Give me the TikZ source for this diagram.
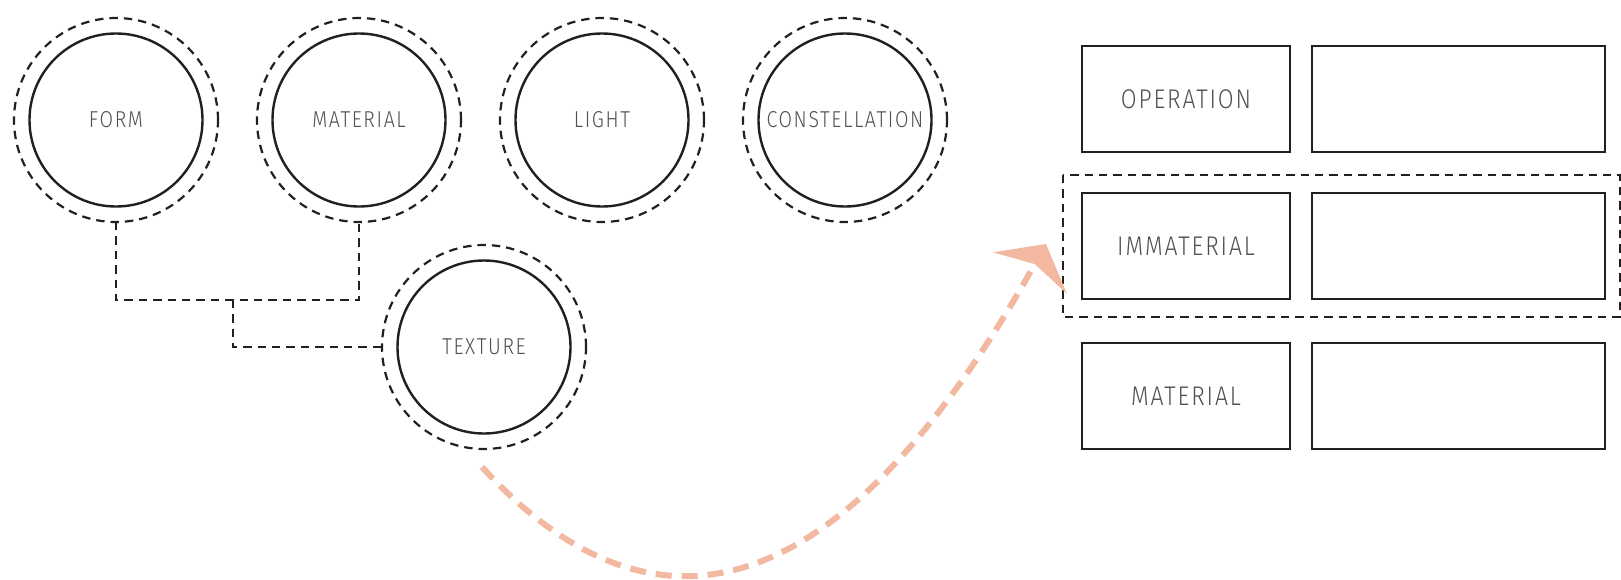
\documentclass[tikz,border=0pt]{standalone}
\usepackage{fontspec}
\setmainfont{Fira Sans}[UprightFont=* Light, FakeStretch=0.85, LetterSpace=7]
\usepackage{xcolor}
\usepackage{tikz}
\usetikzlibrary{arrows.meta, positioning, calc}
\definecolor{qInk}{RGB}{35,31,32}
\definecolor{qText}{RGB}{80,80,80}
\definecolor{qPeach}{RGB}{242,184,160}

\begin{document}
\begin{tikzpicture}[x=0.5pt, y=0.5pt,
  idea/.style={circle, draw=qInk, line width=1.2pt, minimum size=86.5pt, inner sep=0pt, outer sep=0pt,
    text=qText, font=\fontsize{11.5}{13}\selectfont},
  halo/.style={circle, draw=qInk, line width=1.1pt, dash pattern=on 4.2pt off 3pt,
    minimum size=102pt, inner sep=0pt, outer sep=0pt},
  cell/.style={rectangle, draw=qInk, line width=1.4pt, minimum width=104pt, minimum height=53pt,
    outer sep=0pt, text=qText, font=\fontsize{13.5}{15}\selectfont},
  slot/.style={cell, minimum width=146.5pt},
  link/.style={draw=qInk, line width=1.1pt, dash pattern=on 4.2pt off 3pt},
  flow/.style={draw=qPeach, line width=3pt, dash pattern=on 8pt off 5pt,
    -{Stealth[length=16.5pt, width=42pt, inset=5pt]}}]
  \useasboundingbox (0,0) rectangle (1621,-579);

  % Concept circles with dashed halos
  \foreach \nm/\lbl/\cx in {form/FORM/116, material/MATERIAL/359, light/LIGHT/602, constellation/CONSTELLATION/845} {
    \node[idea] (\nm) at (\cx,-120) {\lbl};
    \node[halo] (\nm-ring) at (\nm) {};
  }
  \node[idea] (texture) at (484,-347) {TEXTURE};
  \node[halo] (texture-ring) at (texture) {};

  % Form + material -> texture
  \draw[link] (form-ring.south) -- ++(0,-78) coordinate (fork) -| (material-ring.south);
  \coordinate (joint) at ($(fork)!0.48!(fork -| material-ring.south)$);
  \draw[link] (joint) |- (texture-ring.west);

  % Table of categories
  \node[cell] (operation) at (1186,-99) {OPERATION};
  \node[slot, right=11pt of operation] (operation-note) {};
  \node[cell, below=20.5pt of operation] (immaterial) {IMMATERIAL};
  \node[slot, right=11pt of immaterial] (immaterial-note) {};
  \node[cell, below=22pt of immaterial] (matter) {MATERIAL};
  \node[slot, right=11pt of matter] (matter-note) {};

  % Highlighted row
  \draw[link] ($(immaterial.north west)+(-19,18)$) rectangle ($(immaterial-note.south east)+(15,-18)$);

  % Texture -> immaterial
  \coordinate (flow-start) at ($(texture-ring.south)+(-2,-18)$);
  \coordinate (flow-end) at ($(immaterial.west)+(-36,2)$);
  \draw[flow] (flow-start) .. controls +(160,-175) and +(-215,-385) .. (flow-end);
\end{tikzpicture}
\end{document}
